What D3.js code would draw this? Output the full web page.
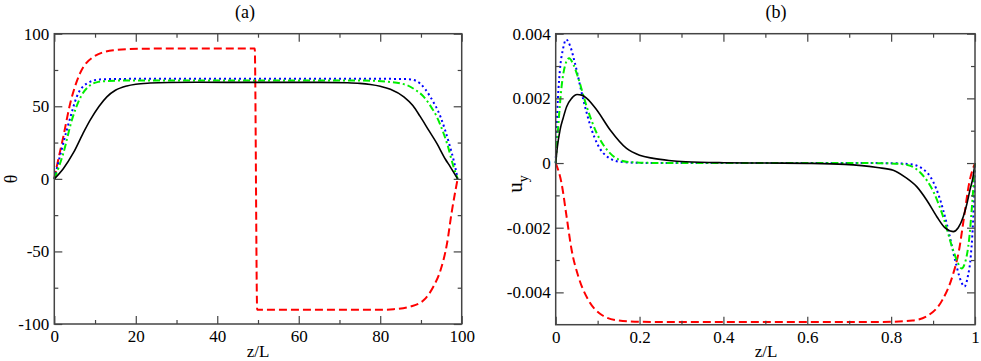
<!DOCTYPE html>
<html>
<head>
<meta charset="utf-8">
<script src="https://cdn.jsdelivr.net/npm/d3@7"></script>
<style>
body{margin:0;background:#fff;}
text{font-family:"Liberation Serif","Times New Roman",serif;fill:#000;}
</style>
</head>
<body>
<div class="chart"></div>
<script>
var w = 981;
var h = 361;

// panel (a) : theta vs z/L
var aXTicks = [0, 20, 40, 60, 80, 100];
var aXMinor = [10, 30, 50, 70, 90];
var aYTicks = [100, 50, 0, -50, -100];
var aYMinor = [75, 25, -25, -75];

var aBlackX = [0, 2.2, 4.7, 7, 8.8, 11, 12.9, 15, 17.8, 20, 23.5, 28, 35, 50, 65, 72, 75, 77.6, 80, 82.5, 85.8, 88, 89.8, 92, 93.9, 96, 97.2, 99];
var aBlackY = [0, 7, 18, 31, 40.4, 50, 56.5, 61, 64, 65.2, 66, 66.4, 66.5, 66.5, 66.5, 66.2, 65.8, 65, 63.8, 61.8, 56.5, 50.5, 43, 33, 24.4, 13.5, 8.3, 0];
var aGreenX = [0, 2.2, 4.3, 6.5, 8.8, 10.8, 12.9, 16, 20, 30, 50, 70, 77.6, 82, 86.6, 88.5, 90.7, 92.5, 93.9, 95.2, 96.4, 98, 99];
var aGreenY = [0, 17.5, 40.4, 56.5, 64.5, 66.8, 67.4, 67.7, 67.8, 67.8, 67.8, 67.8, 67.6, 66.9, 64.5, 61.5, 56.5, 49.5, 42.7, 34, 24.4, 8.3, 0];
var aBlueX = [0, 1.56, 3.0, 3.9, 5.5, 8.0, 11.2, 15, 20, 50, 80, 86, 87.5, 89.8, 92.3, 94.8, 96.9, 98.4, 99];
var aBlueY = [0, 17.5, 33, 42, 56.5, 65.7, 68.5, 68.8, 68.9, 68.9, 68.9, 68.8, 68.5, 65.7, 56.5, 42.7, 24.4, 8.3, 0];
var aRedX = [0, 0.6, 2.2, 3.9, 6.3, 9.6, 14.5, 21, 30, 49.2, 49.8, 60, 80, 83.3, 87.4, 90.7, 93.1, 94.8, 96.4, 97.6, 98.5, 99];
var aRedY = [0, 8.3, 28.9, 51.9, 72.6, 84, 88.6, 89.6, 89.8, 89.8, -90.2, -90.2, -90.2, -89.8, -88, -83.5, -74, -63, -44.5, -22, -7.5, 0];

// panel (b) : u_y vs z/L
var bXTicks = [0, 0.2, 0.4, 0.6, 0.8, 1];
var bXMinor = [0.1, 0.3, 0.5, 0.7, 0.9];
var bYTicks = [0.004, 0.002, 0, -0.002, -0.004];
var bYMinor = [0.003, 0.001, -0.001, -0.003];

var bBlackX = [0, 0.004, 0.0103, 0.018, 0.026, 0.038, 0.051, 0.062, 0.074, 0.098, 0.13, 0.169, 0.2, 0.233, 0.27, 0.31, 0.4, 0.5, 0.6, 0.69, 0.73, 0.767, 0.805, 0.835, 0.861, 0.885, 0.909, 0.928, 0.948, 0.96, 0.972, 0.98, 0.988, 0.995, 1];
var bBlackY = [0, 0.0005, 0.00102, 0.0014, 0.00174, 0.002, 0.00212, 0.0021, 0.002, 0.00164, 0.00102, 0.00045, 0.00024, 0.000145, 0.00008, 0.00004, 0.00001, 0, -0.00001, -0.00004, -0.00008, -0.00014, -0.00022, -0.00045, -0.00073, -0.00115, -0.00166, -0.002, -0.00212, -0.002, -0.00166, -0.0013, -0.00083, -0.00045, 0];
var bGreenX = [0, 0.006, 0.014, 0.022, 0.032, 0.042, 0.054, 0.074, 0.098, 0.13, 0.169, 0.22, 0.3, 0.5, 0.7, 0.78, 0.831, 0.87, 0.902, 0.926, 0.946, 0.958, 0.968, 0.978, 0.986, 0.994, 1];
var bGreenY = [0, 0.00112, 0.00236, 0.003, 0.00324, 0.00305, 0.00262, 0.00174, 0.00092, 0.0003, 0.00004, 0.000005, 0, 0, 0, -0.000005, -0.00004, -0.0003, -0.00092, -0.00174, -0.00262, -0.00305, -0.00326, -0.003, -0.00236, -0.00112, 0];
var bBlueX = [0, 0.003, 0.01, 0.017, 0.025, 0.035, 0.046, 0.066, 0.086, 0.114, 0.153, 0.2, 0.3, 0.5, 0.7, 0.8, 0.847, 0.886, 0.914, 0.934, 0.954, 0.965, 0.975, 0.983, 0.99, 0.997, 1];
var bBlueY = [0, 0.0013, 0.00287, 0.0035, 0.00382, 0.0036, 0.00308, 0.00195, 0.00102, 0.0003, 0.00004, 0.000005, 0, 0, 0, -0.000005, -0.00004, -0.0003, -0.00102, -0.00195, -0.00308, -0.0036, -0.00382, -0.0035, -0.00287, -0.0013, 0];
var bRedX = [0, 0.014, 0.026, 0.038, 0.054, 0.078, 0.11, 0.149, 0.2, 0.3, 0.5, 0.7, 0.8, 0.851, 0.89, 0.922, 0.946, 0.962, 0.974, 0.986, 1];
var bRedY = [0, -0.00063, -0.00166, -0.00269, -0.00351, -0.00424, -0.0047, -0.00487, -0.00491, -0.00492, -0.00492, -0.00492, -0.00491, -0.00487, -0.0047, -0.00424, -0.00351, -0.00269, -0.00166, -0.00063, 0];

var frameColor = "#444";
var majorLen = 8, minorLen = 4;

// line styles, same for both panels
var styles = {
  black: {color: "#000000", width: 1.6, dash: null},
  green: {color: "#00ee00", width: 2, dash: "7,3,2,3"},
  blue:  {color: "#0000ff", width: 2, dash: "2,3"},
  red:   {color: "#ff0000", width: 2, dash: "8,4"}
};

var svg = d3.select(".chart")
            .append("svg")
            .attr("width", w)
            .attr("height", h);

function zipXY(xs, ys){ // pair x and y arrays into points
  return xs.map(function(x, i){ return {x: x, y: ys[i]}; });
}

function drawPanel(p){
  var xScale = d3.scaleLinear().domain(p.xDomain).range([p.left, p.right]);
  var yScale = d3.scaleLinear().domain(p.yDomain).range([p.bottom, p.top]);
  var g = svg.append("g");

  var line = d3.line()
               .x(function(d){ return xScale(d.x); })
               .y(function(d){ return yScale(d.y); })
               .curve(d3.curveMonotoneX);

  // curves (drawn before frame so the box stays on top)
  p.series.forEach(function(s){
    var st = styles[s.style];
    g.append("path")
     .datum(zipXY(s.x, s.y))
     .attr("fill", "none")
     .attr("stroke", st.color)
     .attr("stroke-width", st.width)
     .attr("stroke-dasharray", st.dash)
     .attr("d", line);
  });

  var fmt = function(d){ return String(d); }; // keep plain hyphen minus

  // bottom + top axes (ticks pointing inside)
  g.append("g").attr("transform", `translate(0,${p.bottom})`)
   .call(d3.axisBottom(xScale).tickValues(p.xTicks).tickFormat(fmt).tickSize(-majorLen).tickPadding(6))
   .call(styleAxis);
  g.append("g").attr("transform", `translate(0,${p.bottom})`)
   .call(d3.axisBottom(xScale).tickValues(p.xMinor).tickFormat("").tickSize(-minorLen))
   .call(styleAxis);
  g.append("g").attr("transform", `translate(0,${p.top})`)
   .call(d3.axisTop(xScale).tickValues(p.xTicks).tickFormat("").tickSize(-majorLen))
   .call(styleAxis);
  g.append("g").attr("transform", `translate(0,${p.top})`)
   .call(d3.axisTop(xScale).tickValues(p.xMinor).tickFormat("").tickSize(-minorLen))
   .call(styleAxis);

  // left + right axes
  g.append("g").attr("transform", `translate(${p.left},0)`)
   .call(d3.axisLeft(yScale).tickValues(p.yTicks).tickFormat(fmt).tickSize(-majorLen).tickPadding(5))
   .call(styleAxis);
  g.append("g").attr("transform", `translate(${p.left},0)`)
   .call(d3.axisLeft(yScale).tickValues(p.yMinor).tickFormat("").tickSize(-minorLen))
   .call(styleAxis);
  g.append("g").attr("transform", `translate(${p.right},0)`)
   .call(d3.axisRight(yScale).tickValues(p.yTicks).tickFormat("").tickSize(-majorLen))
   .call(styleAxis);
  g.append("g").attr("transform", `translate(${p.right},0)`)
   .call(d3.axisRight(yScale).tickValues(p.yMinor).tickFormat("").tickSize(-minorLen))
   .call(styleAxis);

  g.append("rect") // the box
   .attr("x", p.left).attr("y", p.top)
   .attr("width", p.right - p.left).attr("height", p.bottom - p.top)
   .attr("fill", "none")
   .attr("stroke", frameColor)
   .attr("stroke-width", 1.5);

  g.append("text") // panel title
   .attr("x", p.titleX).attr("y", 18)
   .attr("text-anchor", "middle")
   .style("font-size", "18px")
   .text(p.title);

  g.append("text") // x label
   .attr("x", p.xLabelX).attr("y", 357)
   .attr("text-anchor", "middle")
   .style("font-size", "17px")
   .text("z/L");

  p.yLabel(g);
}

function styleAxis(a){
  a.select(".domain").remove();
  a.selectAll("line").attr("stroke", frameColor).attr("stroke-width", 1.2);
  a.selectAll("text")
   .style("font-size", "17px")
   .style("font-family", '"Liberation Serif","Times New Roman",serif')
   .attr("fill", "#000");
}

drawPanel({
  left: 54.3, right: 461.7, top: 33.7, bottom: 324,
  xDomain: [0, 100], yDomain: [-100, 100],
  xTicks: aXTicks, xMinor: aXMinor, yTicks: aYTicks, yMinor: aYMinor,
  title: "(a)", titleX: 245, xLabelX: 258,
  series: [
    {x: aRedX, y: aRedY, style: "red"},
    {x: aBlueX, y: aBlueY, style: "blue"},
    {x: aGreenX, y: aGreenY, style: "green"},
    {x: aBlackX, y: aBlackY, style: "black"}
  ],
  yLabel: function(g){
    g.append("text")
     .attr("transform", "translate(17,179) rotate(-90)")
     .attr("text-anchor", "middle")
     .style("font-size", "18px")
     .text("θ");
  }
});

drawPanel({
  left: 555.7, right: 975, top: 33.7, bottom: 324.7,
  xDomain: [0, 1], yDomain: [-0.005, 0.004],
  xTicks: bXTicks, xMinor: bXMinor, yTicks: bYTicks, yMinor: bYMinor,
  title: "(b)", titleX: 776, xLabelX: 766,
  series: [
    {x: bRedX, y: bRedY, style: "red"},
    {x: bBlueX, y: bBlueY, style: "blue"},
    {x: bGreenX, y: bGreenY, style: "green"},
    {x: bBlackX, y: bBlackY, style: "black"}
  ],
  yLabel: function(g){
    var t = g.append("text")
             .attr("transform", "translate(522,184) rotate(-90)")
             .attr("text-anchor", "middle")
             .style("font-size", "21px");
    t.append("tspan").text("u");
    t.append("tspan").attr("dy", 6).style("font-size", "14px").text("y");
  }
});
</script>
</body>
</html>
